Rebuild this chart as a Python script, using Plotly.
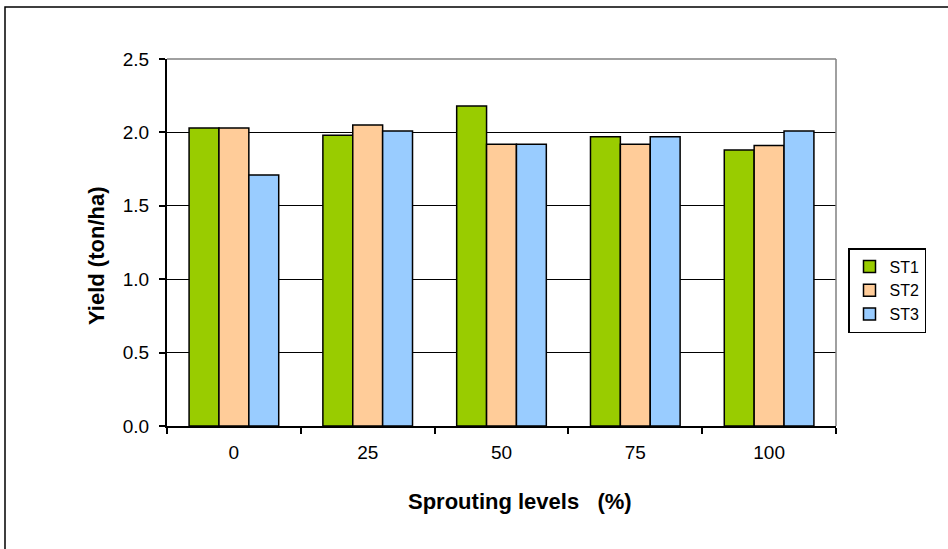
import plotly.graph_objects as go

categories = ["0", "25", "50", "75", "100"]
st1 = [2.03, 1.98, 2.18, 1.97, 1.88]
st2 = [2.03, 2.05, 1.92, 1.92, 1.91]
st3 = [1.71, 2.01, 1.92, 1.97, 2.01]
series_names = ["ST1", "ST2", "ST3"]
series_colors = ["#99CC00", "#FFCC99", "#99CCFF"]
y_ticks = [0.0, 0.5, 1.0, 1.5, 2.0, 2.5]

W, H = 948, 549
L, R, T, B = 167, 836, 59, 426

fig = go.Figure()
for name, vals, col in zip(series_names, [st1, st2, st3], series_colors):
    fig.add_trace(go.Bar(
        x=categories, y=vals, name=name,
        marker=dict(color=col, line=dict(color="black", width=1.5)),
    ))

font = "Liberation Sans, Arial, sans-serif"

def px_x(p):
    return (p - L) / (R - L)

def px_y(p):
    return (B - p) / (B - T)

fig.update_layout(
    width=W, height=H,
    margin=dict(l=L, r=W - R, t=T, b=H - B, pad=0),
    paper_bgcolor="white", plot_bgcolor="white",
    barmode="group", bargap=0.33, bargroupgap=0,
    font=dict(family=font, size=19, color="black"),
    showlegend=True,
    legend=dict(
        x=px_x(848), y=px_y(248), xanchor="left", yanchor="top",
        bordercolor="black", borderwidth=1.5, bgcolor="white",
        font=dict(family=font, size=16, color="black"),
        itemclick=False,
    ),
    xaxis=dict(
        type="category", showgrid=False, showline=True, linecolor="black", linewidth=2,
        ticks="outside", tickson="boundaries", ticklen=6, tickwidth=1.5, tickcolor="black",
        ticklabelstandoff=8, tickfont=dict(family=font, size=19),
    ),
    yaxis=dict(
        range=[0, 2.5], tickvals=y_ticks, ticktext=[f"{v:.1f}" for v in y_ticks],
        showgrid=True, gridcolor="black", gridwidth=1, zeroline=False,
        showline=True, linecolor="black", linewidth=2,
        ticks="outside", ticklen=6, tickwidth=1.5, tickcolor="black",
        ticklabelstandoff=6, tickfont=dict(family=font, size=19),
    ),
    shapes=[
        dict(type="line", xref="paper", yref="paper", x0=0, x1=1, y0=1, y1=1,
             line=dict(color="#808080", width=1.5), layer="above"),
        dict(type="line", xref="paper", yref="paper", x0=1, x1=1, y0=0, y1=1,
             line=dict(color="#808080", width=1.5), layer="above"),
        dict(type="rect", xref="paper", yref="paper", x0=px_x(5), x1=px_x(1000),
             y0=px_y(600), y1=px_y(7), line=dict(color="black", width=1.5),
             fillcolor="rgba(0,0,0,0)", layer="below"),
    ],
    annotations=[
        dict(text="<b>Yield (ton/ha)</b>", xref="paper", yref="paper",
             x=px_x(96), y=px_y(256), textangle=-90, showarrow=False,
             font=dict(family=font, size=22, color="black"),
             xanchor="center", yanchor="middle"),
        dict(text="<b>Sprouting levels\u00a0\u00a0 (%)</b>", xref="paper", yref="paper",
             x=px_x(520), y=px_y(501), showarrow=False,
             font=dict(family=font, size=22, color="black"),
             xanchor="center", yanchor="middle"),
    ],
)

fig.write_html("out.html", config={"displayModeBar": False},
               post_script="document.body.style.margin='0px';")
